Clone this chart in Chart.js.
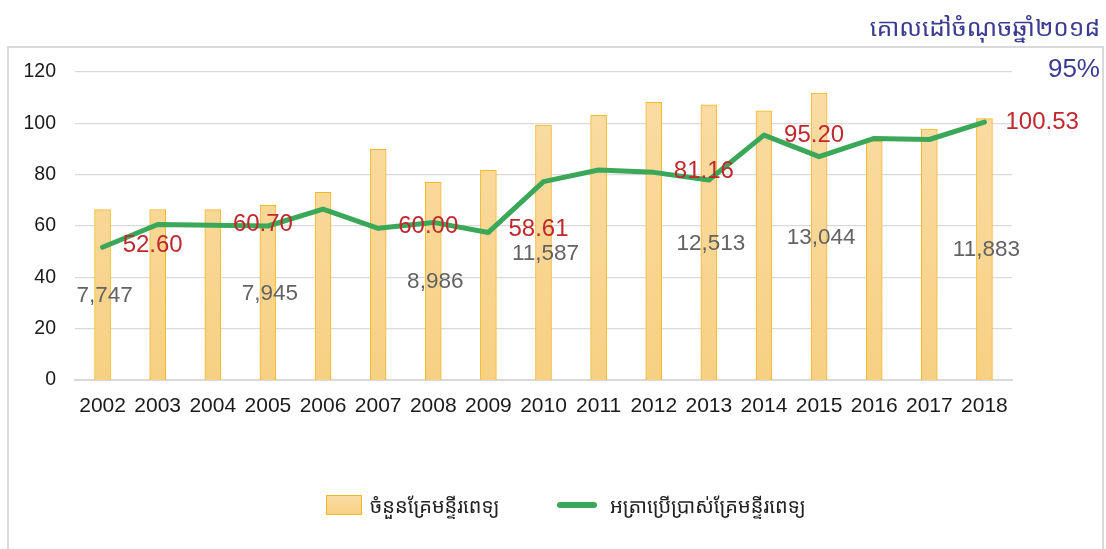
<!DOCTYPE html>
<html>
<head>
<meta charset="utf-8">
<script src="https://cdn.jsdelivr.net/npm/chart.js@4.4.1/dist/chart.umd.min.js"></script>
<style>
  html, body { margin: 0; padding: 0; background: #fff; }
  body { width: 1106px; height: 549px; position: relative; overflow: hidden; font-family: "Liberation Sans", Arial, sans-serif; }
  #frame { position: absolute; left: 7px; top: 46px; width: 1097px; height: 560px; border: 2px solid #d9d9d9; box-sizing: border-box; }
  #wrap { position: absolute; left: 0; top: 0; width: 1106px; height: 549px; }
  #title { position: absolute; right: 6px; top: 12px; font-size: 24.5px; color: #3b3b94; font-family: "Noto Sans Khmer", "Khmer OS", "Noto Sans", sans-serif; white-space: nowrap; line-height: 30px; }
  #target { position: absolute; right: 6px; top: 53px; font-size: 26px; color: #3b3b94; line-height: 30px; }
  .leg { position: absolute; font-size: 20px; color: #222; line-height: 28px; white-space: nowrap; font-family: "Noto Sans Khmer", "Khmer OS", "Noto Sans", sans-serif; }
  .sw-bar { position: absolute; left: 326px; top: 495px; width: 36px; height: 20px; box-sizing: border-box; border: 1px solid #f4b728; background: linear-gradient(#fadda5, #f7d184); }
  .sw-line { position: absolute; left: 557px; top: 502px; width: 40px; height: 6px; border-radius: 3px; background: #3aa858; }
</style>
</head>
<body>
<div id="frame"></div>
<div id="wrap"><canvas id="c" width="1106" height="549"></canvas></div>
<div id="title"></div>
<div id="target"></div>
<div class="sw-bar"></div>
<div class="leg" id="leg1" style="left:370px; top:492px;"></div>
<div class="sw-line"></div>
<div class="leg" id="leg2" style="left:610px; top:492px;"></div>
<script>
// ---- data ----
const years = ['2002','2003','2004','2005','2006','2007','2008','2009','2010','2011','2012','2013','2014','2015','2016','2017','2018'];
const bedCounts = [7747, 7750, 7745, 7945, 8530, 10480, 8986, 9530, 11587, 12030, 12620, 12513, 12230, 13044, 10860, 11410, 11883];
const occupancyRate = [51.7, 60.6, 60.3, 60.0, 66.6, 59.1, 61.4, 57.5, 77.3, 81.8, 80.9, 77.9, 95.4, 87.0, 94.1, 93.7, 100.5];
const bedLabelYears = ['2002','2005','2008','2010','2013','2015','2018'];
const rateLabelYears = ['2003','2005','2008','2010','2013','2015','2018'];
const rateLabelTexts = ['52.60','60.70','60.00','58.61','81.16','95.20','100.53'];
const rateAxisMin = 0, rateAxisMax = 120, rateAxisStep = 20;
const bedAxisMax = 14000;
const seriesNames = ['ចំនួនគ្រែមន្ទីរពេទ្យ', 'អត្រាប្រើប្រាស់គ្រែមន្ទីរពេទ្យ'];
const targetTitle = 'គោលដៅចំណុចឆ្នាំ២០១៨';
const targetValue = '95%';

document.getElementById('title').textContent = targetTitle;
document.getElementById('target').textContent = targetValue;
document.getElementById('leg1').textContent = seriesNames[0];
document.getElementById('leg2').textContent = seriesNames[1];

const FONT = '"Liberation Sans", Arial, sans-serif';

const labelPlugin = {
  id: 'valueLabels',
  afterDatasetsDraw(chart) {
    const ctx = chart.ctx;
    const x = chart.scales.x, y = chart.scales.y, y1 = chart.scales.y1;
    ctx.save();
    ctx.textBaseline = 'middle';
    // bar labels (centre of bar)
    ctx.font = '22.5px ' + FONT;
    ctx.fillStyle = '#636363';
    ctx.textAlign = 'center';
    bedLabelYears.forEach(yr => {
      const i = years.indexOf(yr);
      const v = bedCounts[i];
      ctx.fillText(v.toLocaleString('en-US'), x.getPixelForValue(i) + 2, y1.getPixelForValue(v / 2) + 1);
    });
    // rate labels
    ctx.font = '24px ' + FONT;
    ctx.fillStyle = '#c0282d';
    rateLabelYears.forEach((yr, k) => {
      const i = years.indexOf(yr);
      const v = parseFloat(rateLabelTexts[k]);
      const px = x.getPixelForValue(i);
      const py = y.getPixelForValue(v);
      if (i === years.length - 1) {
        ctx.textAlign = 'left';
        ctx.fillText(rateLabelTexts[k], px + 21, py);
      } else {
        ctx.textAlign = 'center';
        ctx.fillText(rateLabelTexts[k], px - 5, py);
      }
    });
    ctx.restore();
  }
};

const ctx = document.getElementById('c').getContext('2d');
new Chart(ctx, {
  data: {
    labels: years,
    datasets: [
      {
        type: 'line',
        label: seriesNames[1],
        data: occupancyRate,
        yAxisID: 'y',
        borderColor: '#3aa858',
        borderWidth: 5,
        pointRadius: 0,
        tension: 0,
        borderJoinStyle: 'round',
        borderCapStyle: 'round',
        order: 1
      },
      {
        type: 'bar',
        label: seriesNames[0],
        data: bedCounts,
        yAxisID: 'y1',
        backgroundColor: (c) => {
          const a = c.chart.chartArea;
          if (!a) return '#f8d594';
          const g = c.chart.ctx.createLinearGradient(0, a.top, 0, a.bottom);
          g.addColorStop(0, '#fadda6');
          g.addColorStop(1, '#f7d083');
          return g;
        },
        borderColor: '#f4b728',
        borderWidth: 1,
        barThickness: 16,
        order: 2
      }
    ]
  },
  options: {
    responsive: false,
    animation: false,
    layout: { padding: { left: 0, right: 94, top: 72, bottom: 0 } },
    plugins: { legend: { display: false }, tooltip: { enabled: false } },
    scales: {
      x: {
        offset: true,
        grid: { display: false, drawTicks: false },
        border: { display: true, color: '#d9d9d9', width: 2 },
        ticks: { color: '#1a1a1a', font: { size: 21, family: FONT }, padding: 14, maxRotation: 0, autoSkip: false },
        afterFit: (s) => { s.height = 169; }
      },
      y: {
        position: 'left',
        min: rateAxisMin, max: rateAxisMax,
        grid: { color: '#d9d9d9', lineWidth: 1.3, drawTicks: false },
        border: { display: false },
        ticks: { stepSize: rateAxisStep, color: '#1a1a1a', font: { size: 19.5, family: FONT }, padding: 19 },
        afterFit: (s) => { s.width = 75; }
      },
      y1: {
        display: false,
        min: 0, max: bedAxisMax
      }
    }
  },
  plugins: [labelPlugin]
});
</script>
</body>
</html>
